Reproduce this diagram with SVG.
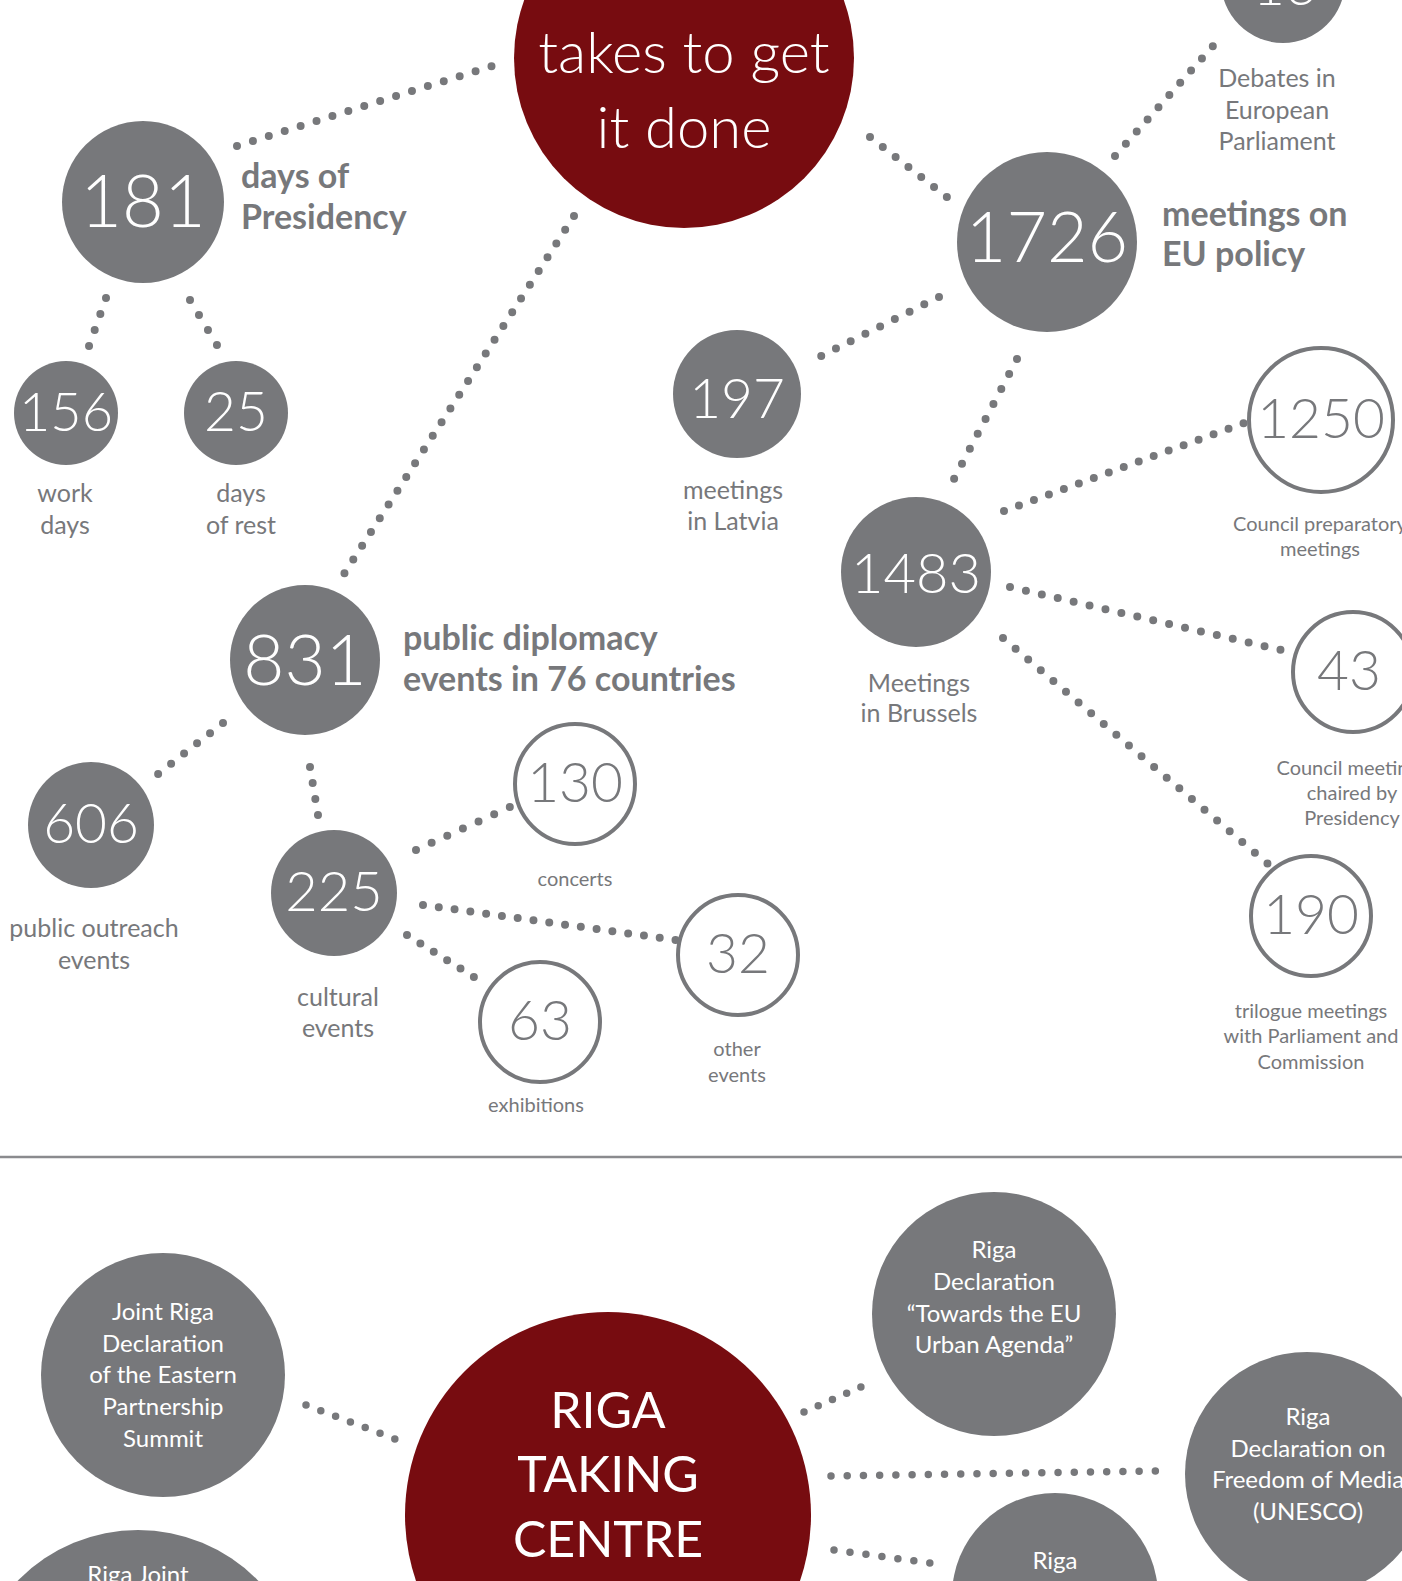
<svg xmlns="http://www.w3.org/2000/svg" width="1402" height="1581" viewBox="0 0 1402 1581">
<style>
  .bg{fill:#ffffff}
  .g{fill:#77787b}
  .r{fill:#770c10}
  .o{fill:#ffffff;stroke:#77787b;stroke-width:4}
  .num{font-family:Lato,"Open Sans","Noto Sans",sans-serif;font-weight:300;text-anchor:middle;fill:#ffffff}
  .numg{font-family:Lato,"Open Sans","Noto Sans",sans-serif;font-weight:300;text-anchor:middle;fill:#77787b}
  .big{font-family:Lato,"Open Sans","Noto Sans",sans-serif;font-weight:700;fill:#77787b;font-size:34px}
  .lab{font-family:Lato,"Open Sans","Noto Sans",sans-serif;font-weight:400;fill:#77787b;text-anchor:middle;font-size:25px}
  .sm{font-family:Lato,"Open Sans","Noto Sans",sans-serif;font-weight:400;fill:#77787b;text-anchor:middle;font-size:20px}
  .wt{font-family:Lato,"Open Sans","Noto Sans",sans-serif;font-weight:400;fill:#ffffff;text-anchor:middle;font-size:24px}
  .title{font-family:Lato,"Open Sans","Noto Sans",sans-serif;font-weight:300;fill:#ffffff;text-anchor:middle;font-size:58px}
  .caps{font-family:Lato,"Open Sans","Noto Sans",sans-serif;font-weight:400;fill:#ffffff;text-anchor:middle;font-size:50px}
  .dot{fill:none;stroke:#77787b;stroke-width:8;stroke-linecap:round;stroke-dasharray:0 0.998}
  .dotb{fill:none;stroke:#77787b;stroke-width:7.5;stroke-linecap:round;stroke-dasharray:0 0.998}
</style>
<rect class="bg" x="0" y="0" width="1402" height="1581"/>

<g id="connectors">
  <line class="dot" pathLength="16" x1="237" y1="146" x2="492" y2="66"/>
  <line class="dot" pathLength="26" x1="574" y1="216" x2="344" y2="574"/>
  <line class="dot" pathLength="6" x1="870" y1="137" x2="947" y2="197"/>
  <line class="dot" pathLength="3" x1="106" y1="298" x2="89" y2="346"/>
  <line class="dot" pathLength="3" x1="190" y1="300" x2="217" y2="345"/>
  <line class="dot" pathLength="9" x1="1115" y1="156" x2="1213" y2="46"/>
  <line class="dot" pathLength="8" x1="939" y1="297" x2="821" y2="356"/>
  <line class="dot" pathLength="8" x1="1017" y1="359" x2="954" y2="479"/>
  <line class="dot" pathLength="16" x1="1004" y1="511" x2="1244" y2="423"/>
  <line class="dot" pathLength="17" x1="1010" y1="587" x2="1281" y2="650"/>
  <line class="dot" pathLength="21" x1="1003" y1="638" x2="1268" y2="864"/>
  <line class="dot" pathLength="5" x1="223" y1="723" x2="158" y2="774"/>
  <line class="dot" pathLength="3" x1="310" y1="767" x2="318" y2="815"/>
  <line class="dot" pathLength="6" x1="416" y1="850" x2="510" y2="807"/>
  <line class="dot" pathLength="16" x1="423" y1="905" x2="676" y2="940"/>
  <line class="dot" pathLength="5" x1="407" y1="935" x2="474" y2="977"/>
  <line class="dotb" pathLength="6" x1="306" y1="1405" x2="395" y2="1439"/>
  <line class="dotb" pathLength="4" x1="804" y1="1412" x2="861" y2="1387"/>
  <line class="dotb" pathLength="20" x1="831" y1="1476" x2="1156" y2="1471"/>
  <line class="dotb" pathLength="6" x1="834" y1="1550" x2="930" y2="1563"/>
</g>

<g id="node-takes">
  <circle class="r" cx="684" cy="58" r="170"/>
  <text class="title" x="684" y="73">takes to get</text>
  <text class="title" x="684" y="148">it done</text>
</g>

<g id="node-181">
  <circle class="g" cx="143" cy="202" r="81"/>
  <text class="num" x="143" y="227" font-size="72">181</text>
  <text class="big" x="241" y="188">days of</text>
  <text class="big" x="241" y="229">Presidency</text>
</g>

<g id="node-156">
  <circle class="g" cx="66" cy="413" r="52"/>
  <text class="num" x="66" y="431" font-size="54">156</text>
  <text class="lab" x="65" y="502">work</text>
  <text class="lab" x="65" y="534">days</text>
</g>

<g id="node-25">
  <circle class="g" cx="236" cy="413" r="52"/>
  <text class="num" x="236" y="431" font-size="55">25</text>
  <text class="lab" x="241" y="502">days</text>
  <text class="lab" x="241" y="534">of rest</text>
</g>

<g id="node-1726">
  <circle class="g" cx="1047" cy="242" r="90"/>
  <text class="num" x="1047" y="262" font-size="70">1726</text>
  <text class="big" x="1162" y="226">meetings on</text>
  <text class="big" x="1162" y="266">EU policy</text>
</g>

<g id="node-debates">
  <circle class="g" cx="1283" cy="-19" r="62"/>
  <text class="num" x="1285" y="5" font-size="55">16</text>
  <text class="lab" x="1277" y="87" font-size="24">Debates in</text>
  <text class="lab" x="1277" y="119" font-size="24">European</text>
  <text class="lab" x="1277" y="150" font-size="24">Parliament</text>
</g>

<g id="node-197">
  <circle class="g" cx="737" cy="394" r="64"/>
  <text class="num" x="737" y="418" font-size="55">197</text>
  <text class="lab" x="733" y="499">meetings</text>
  <text class="lab" x="733" y="530">in Latvia</text>
</g>

<g id="node-1250">
  <circle class="o" cx="1321" cy="420" r="72"/>
  <text class="numg" x="1321" y="438" font-size="55">1250</text>
  <text class="sm" x="1320" y="531">Council preparatory</text>
  <text class="sm" x="1320" y="556">meetings</text>
</g>

<g id="node-1483">
  <circle class="g" cx="916" cy="572" r="75"/>
  <text class="num" x="916" y="593" font-size="56">1483</text>
  <text class="lab" x="919" y="692">Meetings</text>
  <text class="lab" x="919" y="722">in Brussels</text>
</g>

<g id="node-43">
  <circle class="o" cx="1353" cy="672" r="60"/>
  <text class="numg" x="1349" y="690" font-size="55">43</text>
  <text class="sm" x="1352" y="775">Council meetings</text>
  <text class="sm" x="1352" y="800">chaired by</text>
  <text class="sm" x="1352" y="825">Presidency</text>
</g>

<g id="node-190">
  <circle class="o" cx="1311" cy="916" r="60"/>
  <text class="numg" x="1311" y="934" font-size="55">190</text>
  <text class="sm" x="1311" y="1018">trilogue meetings</text>
  <text class="sm" x="1311" y="1043">with Parliament and</text>
  <text class="sm" x="1311" y="1069">Commission</text>
</g>

<g id="node-831">
  <circle class="g" cx="305" cy="660" r="75"/>
  <text class="num" x="305" y="685" font-size="71">831</text>
  <text class="big" x="403" y="650">public diplomacy</text>
  <text class="big" x="403" y="691">events in 76 countries</text>
</g>

<g id="node-606">
  <circle class="g" cx="91" cy="825" r="63"/>
  <text class="num" x="91" y="843" font-size="55">606</text>
  <text class="lab" x="94" y="937">public outreach</text>
  <text class="lab" x="94" y="969">events</text>
</g>

<g id="node-225">
  <circle class="g" cx="334" cy="893" r="63"/>
  <text class="num" x="334" y="911" font-size="56">225</text>
  <text class="lab" x="338" y="1006">cultural</text>
  <text class="lab" x="338" y="1037">events</text>
</g>

<g id="node-130">
  <circle class="o" cx="575" cy="784" r="60"/>
  <text class="numg" x="575" y="802" font-size="55">130</text>
  <text class="sm" x="575" y="886">concerts</text>
</g>

<g id="node-32">
  <circle class="o" cx="738" cy="955" r="60"/>
  <text class="numg" x="738" y="973" font-size="55">32</text>
  <text class="sm" x="737" y="1056">other</text>
  <text class="sm" x="737" y="1082">events</text>
</g>

<g id="node-63">
  <circle class="o" cx="540" cy="1022" r="60"/>
  <text class="numg" x="540" y="1040" font-size="55">63</text>
  <text class="sm" x="536" y="1112">exhibitions</text>
</g>

<line x1="0" y1="1157" x2="1402" y2="1157" stroke="#8a8b8e" stroke-width="2.5"/>

<g id="node-eastern">
  <circle class="g" cx="163" cy="1375" r="122"/>
  <text class="wt" x="163" y="1320">Joint Riga</text>
  <text class="wt" x="163" y="1352">Declaration</text>
  <text class="wt" x="163" y="1383">of the Eastern</text>
  <text class="wt" x="163" y="1415">Partnership</text>
  <text class="wt" x="163" y="1447">Summit</text>
</g>

<g id="node-riga-centre">
  <circle class="r" cx="608" cy="1515" r="203"/>
  <text class="caps" x="608" y="1428">RIGA</text>
  <text class="caps" x="608" y="1492">TAKING</text>
  <text class="caps" x="608" y="1557">CENTRE</text>
</g>

<g id="node-urban">
  <circle class="g" cx="994" cy="1314" r="122"/>
  <text class="wt" x="994" y="1258">Riga</text>
  <text class="wt" x="994" y="1290">Declaration</text>
  <text class="wt" x="994" y="1322">“Towards the EU</text>
  <text class="wt" x="994" y="1353">Urban Agenda”</text>
</g>

<g id="node-media">
  <circle class="g" cx="1307" cy="1474" r="122"/>
  <text class="wt" x="1308" y="1425">Riga</text>
  <text class="wt" x="1308" y="1457">Declaration on</text>
  <text class="wt" x="1308" y="1488">Freedom of Media</text>
  <text class="wt" x="1308" y="1520">(UNESCO)</text>
</g>

<g id="node-riga-bottom">
  <circle class="g" cx="1055" cy="1596" r="103"/>
  <text class="wt" x="1055" y="1569">Riga</text>
</g>

<g id="node-riga-joint">
  <circle class="g" cx="138" cy="1698" r="168"/>
  <text class="wt" x="138" y="1583">Riga Joint</text>
</g>
</svg>
